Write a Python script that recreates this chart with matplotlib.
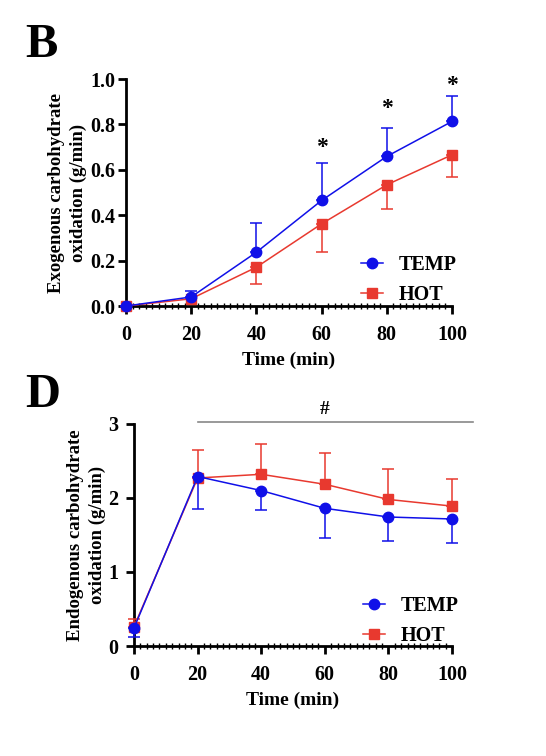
import matplotlib
matplotlib.use("Agg")
import matplotlib.pyplot as plt
from matplotlib.ticker import MultipleLocator
from matplotlib.lines import Line2D

plt.rcParams['font.family'] = ['Liberation Serif', 'DejaVu Serif']
plt.rcParams['font.weight'] = 'bold'

time = [0, 20, 40, 60, 80, 100]

# panel B - exogenous CHO oxidation
exo_temp = [0.0, 0.04, 0.237, 0.465, 0.659, 0.813]
exo_temp_sd = [0.0, 0.025, 0.13, 0.165, 0.123, 0.11]
exo_hot = [0.0, 0.032, 0.171, 0.362, 0.534, 0.666]
exo_hot_sd = [0.0, 0.0, 0.075, 0.124, 0.108, 0.097]
star_x = [60, 80, 100]
star_y = [0.70, 0.87, 0.97]

# panel D - endogenous CHO oxidation
endo_temp = [0.243, 2.29, 2.10, 1.86, 1.743, 1.716]
endo_temp_sd = [0.12, 0.44, 0.26, 0.40, 0.33, 0.33]
endo_hot = [0.26, 2.27, 2.32, 2.185, 1.98, 1.89]
endo_hot_sd = [0.105, 0.38, 0.41, 0.425, 0.41, 0.37]

BLUE = '#1010e8'
RED = '#e8392f'
W, H = 546, 756


def style_axes(ax, ymax, ystep, fmt, ypad):
    for s in ['top', 'right']:
        ax.spines[s].set_visible(False)
    for s in ['left', 'bottom']:
        ax.spines[s].set_linewidth(2)
    ax.set_xlim(0, 100)
    ax.set_ylim(0, ymax)
    ax.xaxis.set_major_locator(MultipleLocator(20))
    ax.xaxis.set_minor_locator(MultipleLocator(2))
    ax.yaxis.set_major_locator(MultipleLocator(ystep))
    ax.tick_params(axis='both', which='major', direction='out', length=6, width=2,
                   labelsize=14.5)
    ax.tick_params(axis='x', which='major', pad=8)
    ax.tick_params(axis='y', which='major', pad=ypad)
    ax.tick_params(axis='x', which='minor', direction='inout', length=4, width=1)
    ax.yaxis.set_major_formatter(fmt)
    for lab in ax.get_xticklabels() + ax.get_yticklabels():
        lab.set_fontweight('bold')
    ax.set_xlabel('Time (min)', fontsize=14, fontweight='bold', labelpad=4.5)


def add_legend(ax, px, py):
    handles = [Line2D([], [], color=BLUE, lw=1.1, marker='o', ms=7.5),
               Line2D([], [], color=RED, lw=1.1, marker='s', ms=7.5)]
    ax.legend(handles, ['TEMP', 'HOT'], loc='upper left',
              bbox_to_anchor=(px / W, 1 - py / H), bbox_transform=fig.transFigure,
              frameon=False, borderpad=0, borderaxespad=0, handlelength=1.1,
              handletextpad=0.75, labelspacing=0.5,
              prop={'weight': 'bold', 'size': 14.5})


fig = plt.figure(figsize=(5.46, 7.56), dpi=100)

# ---- panel B ----
axB = fig.add_axes([0.2308, 0.5952, 0.597, 0.3003])
axB.errorbar(time, exo_temp, yerr=[[0] * 6, exo_temp_sd], color=BLUE, lw=1.1,
             marker='o', ms=7.5, capsize=4.5, elinewidth=1.1, capthick=1.1,
             clip_on=False, zorder=4)
axB.errorbar(time, exo_hot, yerr=[exo_hot_sd, [0] * 6], color=RED, lw=1.1,
             marker='s', ms=7.5, capsize=4.5, elinewidth=1.1, capthick=1.1,
             clip_on=False, zorder=3)
for x, y in zip(star_x, star_y):
    axB.text(x, y, '*', ha='center', va='center', fontsize=17, fontweight='bold')
style_axes(axB, 1.0, 0.2, '{x:.1f}', 2)
axB.set_ylabel('Exogenous carbohydrate\noxidation (g/min)', fontsize=13.5,
               fontweight='bold', labelpad=2, linespacing=1.35)
add_legend(axB, 361, 255)
fig.text(0.046, 0.9246, 'B', fontsize=35, fontweight='bold', va='baseline')

# ---- panel D ----
axD = fig.add_axes([0.2454, 0.1455, 0.5826, 0.2937])
axD.errorbar(time, endo_temp, yerr=[endo_temp_sd, [0] * 6], color=BLUE, lw=1.1,
             marker='o', ms=7.5, capsize=4.5, elinewidth=1.1, capthick=1.1,
             clip_on=False, zorder=4)
axD.errorbar(time, endo_hot, yerr=[[0] * 6, endo_hot_sd], color=RED, lw=1.1,
             marker='s', ms=7.5, capsize=4.5, elinewidth=1.1, capthick=1.1,
             clip_on=False, zorder=3)
axD.plot([20, 106.5], [3.02, 3.02], color='#888888', lw=1.2, clip_on=False)
axD.text(60, 3.2, '#', ha='center', va='center', fontsize=14, fontweight='bold')
style_axes(axD, 3, 1, '{x:.0f}', 5)
axD.set_ylabel('Endogenous carbohydrate\noxidation (g/min)', fontsize=13.5,
               fontweight='bold', labelpad=2, linespacing=1.35)
add_legend(axD, 363, 596)
fig.text(0.046, 0.4616, 'D', fontsize=35, fontweight='bold', va='baseline')

fig.savefig('out.png', dpi=100)
